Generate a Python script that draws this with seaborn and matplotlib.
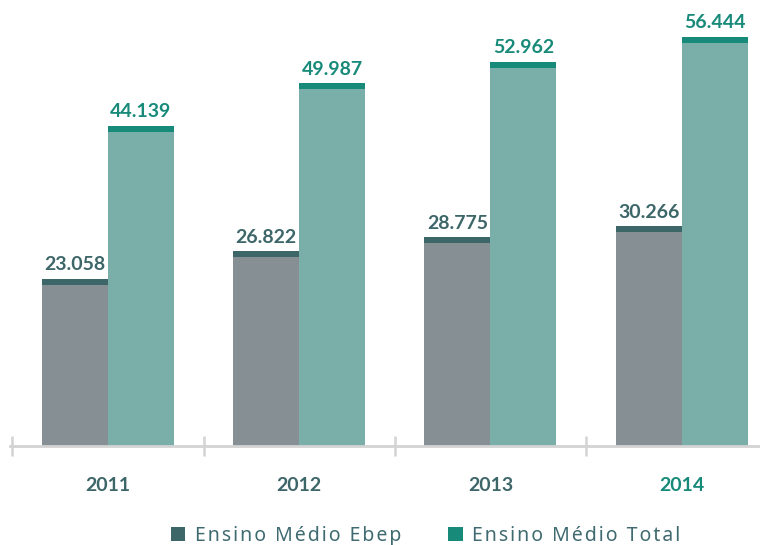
import matplotlib
matplotlib.use("Agg")
import matplotlib.pyplot as plt
import seaborn as sns
import pandas as pd
from matplotlib.patches import Patch, Rectangle

years = ["2011", "2012", "2013", "2014"]
ebep = [23058, 26822, 28775, 30266]
total = [44139, 49987, 52962, 56444]
series = ["Ensino Médio Ebep", "Ensino Médio Total"]

df = pd.DataFrame({
    "ano": years * 2,
    "valor": ebep + total,
    "serie": [series[0]] * len(years) + [series[1]] * len(years),
})

bar_colors = {series[0]: "#858f94", series[1]: "#7aaea8"}
cap_colors = {series[0]: "#3d6669", series[1]: "#178a7a"}

sns.set_theme(style="white")
plt.rcParams["font.family"] = ["Noto Sans", "DejaVu Sans"]
BOLD = ["Lato", "DejaVu Sans"]

fig = plt.figure(figsize=(7.6, 5.45), dpi=100)
ax = fig.add_axes([0.013, 0.1817, 0.987, 0.8183])

sns.barplot(data=df, x="ano", y="valor", hue="serie", palette=bar_colors,
            width=0.69, ax=ax, legend=False, saturation=1, linewidth=0)

ax.set_xlim(-0.513, 3.41)
ax.set_ylim(0, 61500)

# caps + labels
px_per_unit = ax.transData.transform((0, 1000))[1] - ax.transData.transform((0, 0))[1]
cap_h = 6 / px_per_unit * 1000
for container, s in zip(ax.containers, series):
    for patch in container:
        x, w, h = patch.get_x(), patch.get_width(), patch.get_height()
        ax.add_patch(Rectangle((x, h - cap_h), w, cap_h, color=cap_colors[s], lw=0))
        ax.annotate(f"{int(round(h)):,}".replace(",", "."), (x + w / 2, h),
                    xytext=(0, 4), textcoords="offset points", ha="center", va="bottom",
                    fontsize=14, fontweight="bold", family=BOLD, color=cap_colors[s])

# axis styling
for sp in ["top", "right", "left"]:
    ax.spines[sp].set_visible(False)
ax.spines["bottom"].set_color("#d3d3d3")
ax.spines["bottom"].set_linewidth(2)
ax.set_yticks([])
ax.set_xlabel("")
ax.set_ylabel("")
ax.tick_params(axis="x", which="major", length=0, pad=22)
ax.set_xticks([-0.5, 0.5, 1.5, 2.5], minor=True)
ax.tick_params(axis="x", which="minor", bottom=True, direction="inout", length=15,
               width=1.8, color="#d3d3d3")
for i, lab in enumerate(ax.get_xticklabels()):
    lab.set_fontsize(14)
    lab.set_fontweight("bold")
    lab.set_family(BOLD)
    lab.set_color("#178a7a" if i == len(years) - 1 else "#3d6669")

# legend with letter spacing
def spaced(t):
    return "\u200a".join(t)

handles = [Patch(facecolor=cap_colors[s], edgecolor="none") for s in series]
leg = fig.legend(handles, [spaced(s) for s in series], loc="lower center",
                 bbox_to_anchor=(0.56, -0.034), ncol=2, frameon=False,
                 fontsize=14, handlelength=0.75, handleheight=0.75,
                 handletextpad=0.5, columnspacing=2.4, labelcolor="#3f6a70")

fig.savefig("out.png", dpi=100)
